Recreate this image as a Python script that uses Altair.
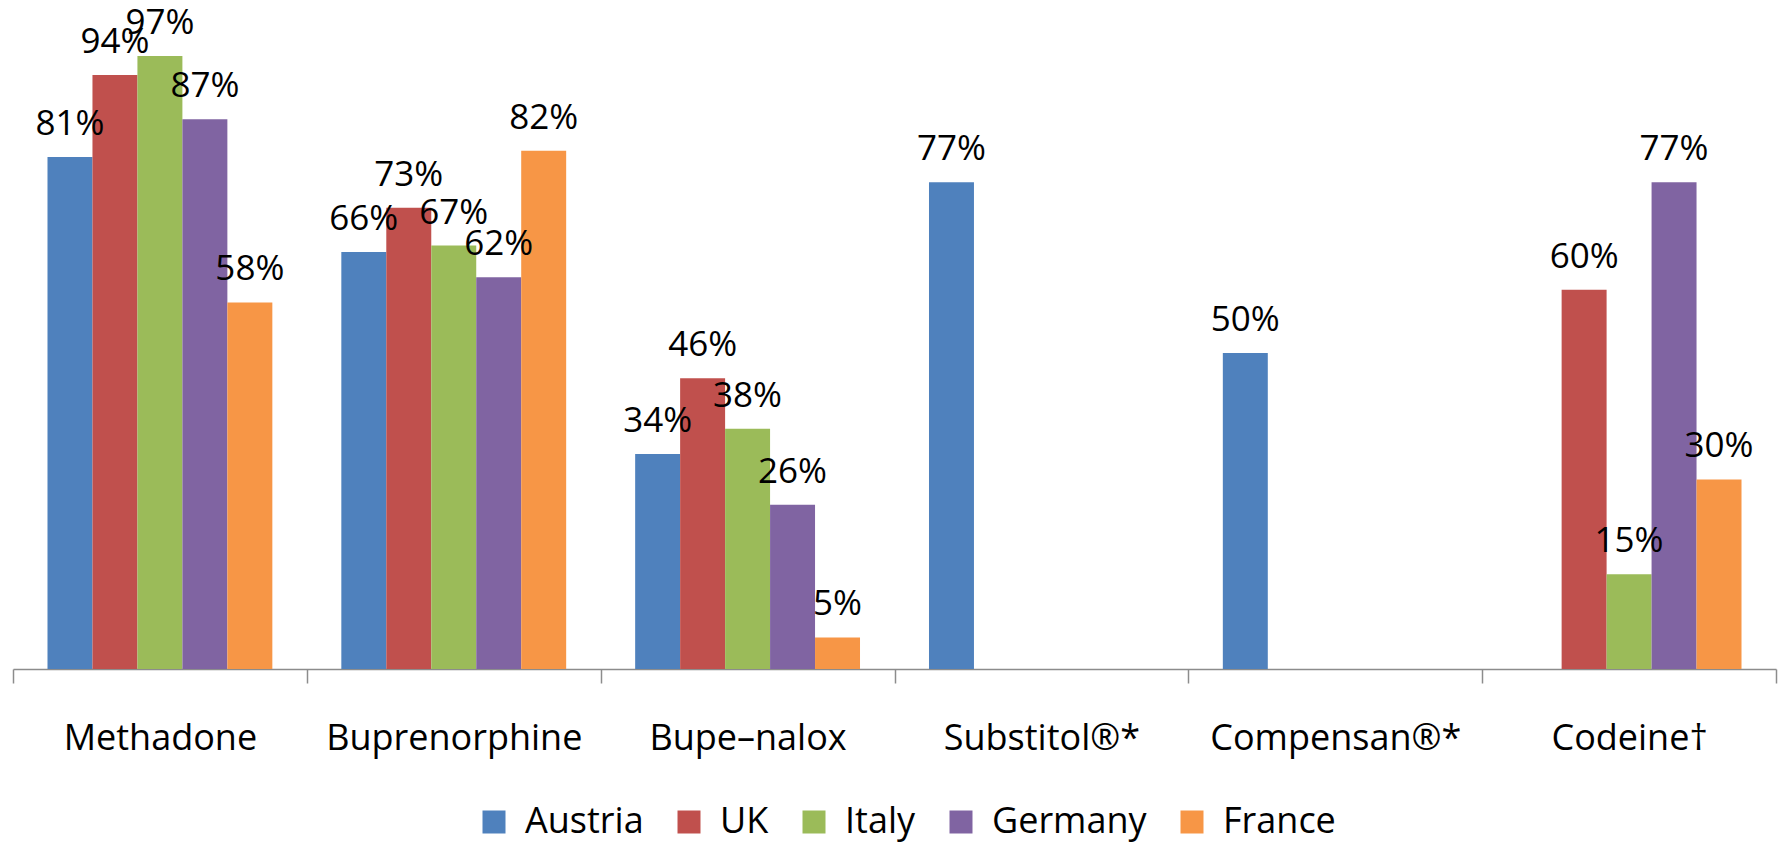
import altair as alt
import pandas as pd

categories = ["Methadone", "Buprenorphine", "Bupe–nalox", "Substitol®*", "Compensan®*", "Codeine†"]
countries = ["Austria", "UK", "Italy", "Germany", "France"]
austria = [81, 66, 34, 77, 50, None]
uk = [94, 73, 46, None, None, 60]
italy = [97, 67, 38, None, None, 15]
germany = [87, 62, 26, None, None, 77]
france = [58, 82, 5, None, None, 30]
colors = ["#4F81BD", "#C0504D", "#9BBB59", "#8064A2", "#F79646"]

rows = []
for country, vals in zip(countries, [austria, uk, italy, germany, france]):
    for cat, v in zip(categories, vals):
        if v is not None:
            rows.append({"drug": cat, "country": country, "value": v, "label": f"{v}%"})
df = pd.DataFrame(rows)

FONT = "Open Sans"

x = alt.X(
    "drug:N",
    sort=categories,
    scale=alt.Scale(domain=categories, paddingInner=0, paddingOuter=0),
    axis=alt.Axis(
        title=None,
        labelAngle=0,
        tickBand="extent",
        domainColor="#8C8C8C",
        tickColor="#8C8C8C",
        domainWidth=1.5,
        tickWidth=1.5,
        tickSize=14,
        labelFont=FONT,
        labelFontSize=36,
        labelColor="black",
        labelPadding=55,
        labelBaseline="middle",
        labelLimit=500,
        grid=False,
    ),
)
xo = alt.XOffset("country:N", sort=countries,
                 scale=alt.Scale(domain=countries, paddingInner=0, paddingOuter=0.767))
y = alt.Y("value:Q", scale=alt.Scale(domain=[0, 100]), axis=None)
color = alt.Color(
    "country:N",
    sort=countries,
    scale=alt.Scale(domain=countries, range=colors),
    legend=alt.Legend(
        title=None,
        orient="none",
        direction="horizontal",
        legendX=463,
        legendY=767,
        symbolType="square",
        symbolSize=529,
        symbolStrokeWidth=0,
        labelFont=FONT,
        labelFontSize=36,
        labelColor="black",
        labelOffset=13,
        columnPadding=27,
        labelLimit=400,
        padding=0,
    ),
)

bars = alt.Chart(df).mark_bar().encode(x=x, xOffset=xo, y=y, color=color)
text = alt.Chart(df).mark_text(
    baseline="alphabetic", dy=-22, fontSize=35, font=FONT, color="black"
).encode(x=x, xOffset=xo, y=y, text="label:N")

chart = (bars + text).properties(
    width=1763,
    height=632,
    padding={"left": 13, "top": 37, "right": 7, "bottom": 174},
    autosize=alt.AutoSizeParams(type="none"),
).configure_view(stroke=None)

chart.save("out.html", embed_options={"renderer": "svg", "actions": False})
